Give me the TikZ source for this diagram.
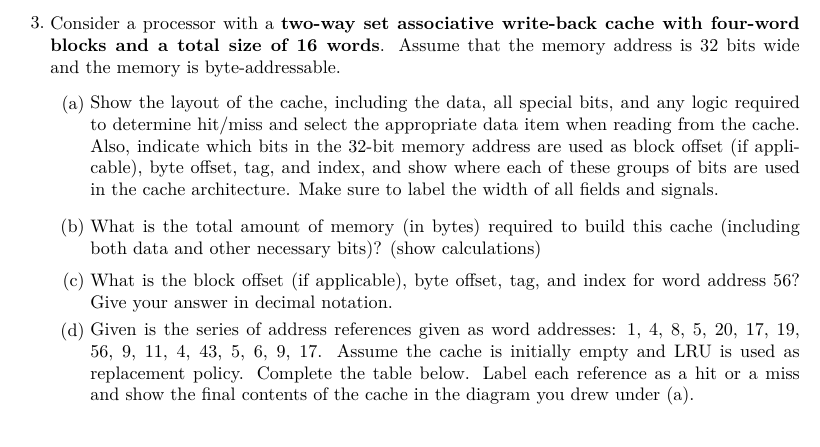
\documentclass[tikz,border=0pt]{standalone}
\begin{document}
\begin{tikzpicture}[x=0.5525pt,y=-0.5525pt,
  para/.style={anchor=north west,inner sep=0pt,align=justify,font=\fontsize{10}{12}\selectfont},
  lbl/.style={anchor=north east,inner sep=0pt,font=\fontsize{10}{12}\selectfont}]
\useasboundingbox (0,0) rectangle (820,446);
\def\tp{12.5}
\node[lbl] (n3) at (45,29-\tp) {3.};
\node[para,text width=414pt] (p0) at (50,29-\tp) {Consider a processor with a \textbf{two-way set associative write-back cache with four-word}\linebreak \textbf{blocks and a total size of 16 words}. Assume that the memory address is 32 bits wide\linebreak and the memory is byte-addressable.};
\node[lbl] (la) at (85,108-\tp) {(a)};
\node[para,text width=392pt] (pa) at (90,108-\tp) {Show the layout of the cache, including the data, all special bits, and any logic required\linebreak to determine hit/miss and select the appropriate data item when reading from the cache.\linebreak Also, indicate which bits in the 32-bit memory address are used as block offset (if appli-\linebreak cable), byte offset, tag, and index, and show where each of these groups of bits are used\linebreak in the cache architecture. Make sure to label the width of all fields and signals.};
\node[lbl] (lb) at (85,231-\tp) {(b)};
\node[para,text width=392pt] (pb) at (90,231-\tp) {What is the total amount of memory (in bytes) required to build this cache (including\linebreak both data and other necessary bits)? (show calculations)};
\node[lbl] (lc) at (85,285-\tp) {(c)};
\node[para,text width=392pt] (pc) at (90,285-\tp) {What is the block offset (if applicable), byte offset, tag, and index for word address 56?\linebreak Give your answer in decimal notation.};
\node[lbl] (ld) at (85,335-\tp) {(d)};
\node[para,text width=392pt] (pd) at (90,335-\tp) {Given is the series of address references given as word addresses: 1, 4, 8, 5, 20, 17, 19,\linebreak 56, 9, 11, 4, 43, 5, 6, 9, 17. Assume the cache is initially empty and LRU is used as\linebreak replacement policy. Complete the table below. Label each reference as a hit or a miss\linebreak and show the final contents of the cache in the diagram you drew under (a).};
\end{tikzpicture}
\end{document}
